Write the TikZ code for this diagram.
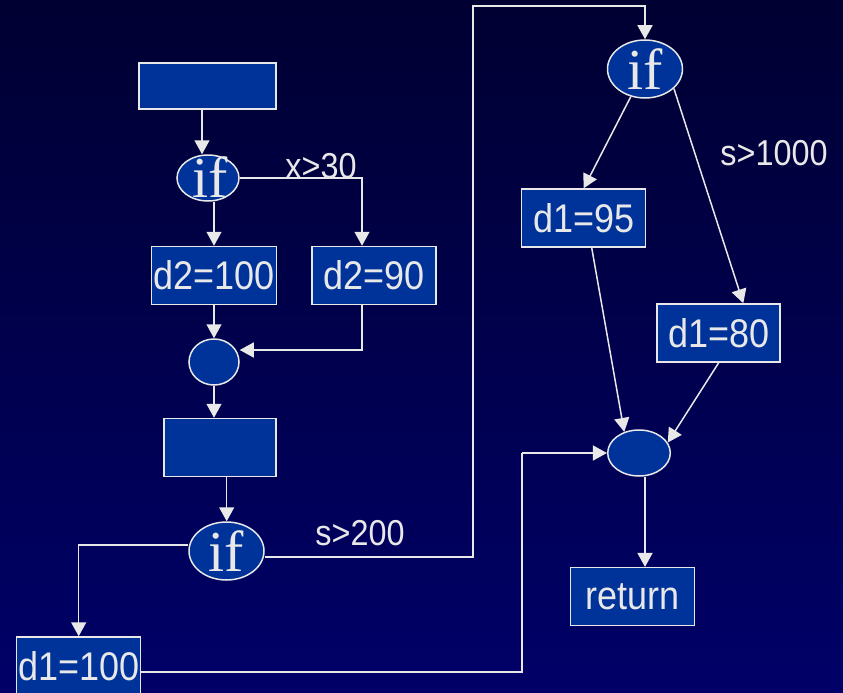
\documentclass[tikz,border=0pt]{standalone}
\usepackage{fontspec}
\setmainfont{Liberation Sans}[FakeStretch=0.9]
\newfontfamily\iffont{Liberation Serif}
\usetikzlibrary{shapes.geometric,arrows.meta}
\definecolor{bgtop}{RGB}{0,0,50}
\definecolor{bgbot}{RGB}{0,0,104}
\definecolor{boxfill}{RGB}{0,51,153}
\definecolor{ink}{RGB}{232,232,232}
\begin{document}
\begin{tikzpicture}[x=1pt,y=-1pt,
  stmt/.style={draw=ink,line width=1.5pt,fill=boxfill,rectangle,inner sep=0pt,
    text=ink,font=\fontsize{40}{40}\selectfont},
  cond/.style={draw=ink,line width=1.5pt,fill=boxfill,ellipse,inner sep=0pt,
    text=ink,font=\iffont\fontsize{58}{58}\selectfont},
  joint/.style={draw=ink,line width=1.5pt,fill=boxfill,ellipse,inner sep=0pt},
  lbl/.style={text=ink,font=\fontsize{36}{36}\selectfont,inner sep=0pt},
  arr/.style={draw=ink,line width=1.5pt,-{Triangle[length=14pt,width=15pt]}},
  wire/.style={draw=ink,line width=1.5pt}]
\useasboundingbox (0,0) rectangle (843,693);
\shade[top color=bgtop,bottom color=bgbot] (0,0) rectangle (843,693);

\begin{scope}
\clip (0,0) rectangle (843,693);
% left column
\node[stmt,minimum width=137pt,minimum height=46pt] (A) at (207.5,86) {};
\node[cond,minimum width=62pt,minimum height=46pt] (if1) at (208,178) {};
\node[text=ink,font=\iffont\fontsize{58}{58}\selectfont,inner sep=0pt] (if1t) at (210,177) {if};
\node[stmt,minimum width=125pt,minimum height=58pt] (d2a) at (214,275.5) {d2=100};
\node[stmt,minimum width=124pt,minimum height=58pt] (d2b) at (374,275.5) {d2=90};
\node[joint,minimum width=50pt,minimum height=46pt] (m1) at (214,362) {};
\node[stmt,minimum width=112pt,minimum height=58pt] (B) at (220,447.5) {};
\node[cond,minimum width=75pt,minimum height=58pt] (if2) at (226.5,551) {if};
\node[stmt,minimum width=124pt,minimum height=58pt] (d1c) at (78.7,666) {d1=100};
% right column
\node[cond,minimum width=75pt,minimum height=58pt] (if3) at (645,69) {if};
\node[stmt,minimum width=124pt,minimum height=58pt] (d1a) at (583.7,218) {d1=95};
\node[stmt,minimum width=123pt,minimum height=58pt] (d1b) at (718.7,333) {d1=80};
\node[joint,minimum width=62.6pt,minimum height=46pt] (m2) at (639,453) {};
\node[stmt,minimum width=124pt,minimum height=58pt] (ret) at (632.5,596.7) {return};

% condition labels
\node[lbl] (lx) at (321,166) {x>30};
\node[lbl] (ls) at (360,533) {s>200};
\node[lbl] (lk) at (774,153) {s>1000};

% routing corners
\coordinate (top) at (473,6);
\coordinate (jn) at (522,453);

% connectors, left column
\draw[arr] ([xshift=-5.5pt]A.south) -- ([xshift=-5.5pt]A.south |- if1.north);
\draw[arr] (d2a.north |- if1.south) -- (d2a.north);
\draw[arr] (if1.east) -| ([xshift=-12pt]d2b.north);
\draw[arr] (d2a.south) -- (m1.north);
\draw[arr] ([xshift=-12pt]d2b.south) |- ([yshift=12pt]m1.east);
\draw[arr] (m1.south) -- (m1.south |- B.north);
\draw[arr] ([xshift=6.7pt]B.south) -- ([xshift=6.7pt]B.south |- if2.north);
\draw[arr] ([yshift=6pt]if2.west) -| (d1c.north);
\draw[arr] ([yshift=-6pt]if2.east) -| (top) -| (if3.north);
\draw[wire] ([yshift=-6pt]d1c.east) -| (jn);
\draw[arr] (jn) -- (m2.west);

% connectors, right column
\draw[arr] (if3) -- (d1a.north);
\draw[arr] (if3.-34) -- ([xshift=24.6pt]d1b.north);
\draw[arr] ([xshift=8pt]d1a.south) -- (m2.125);
\draw[arr] (d1b.south) -- (m2.20);
\draw[arr] ([xshift=6pt]m2.south) -- ([xshift=6pt]m2.south |- ret.north);
\end{scope}
\end{tikzpicture}
\end{document}
